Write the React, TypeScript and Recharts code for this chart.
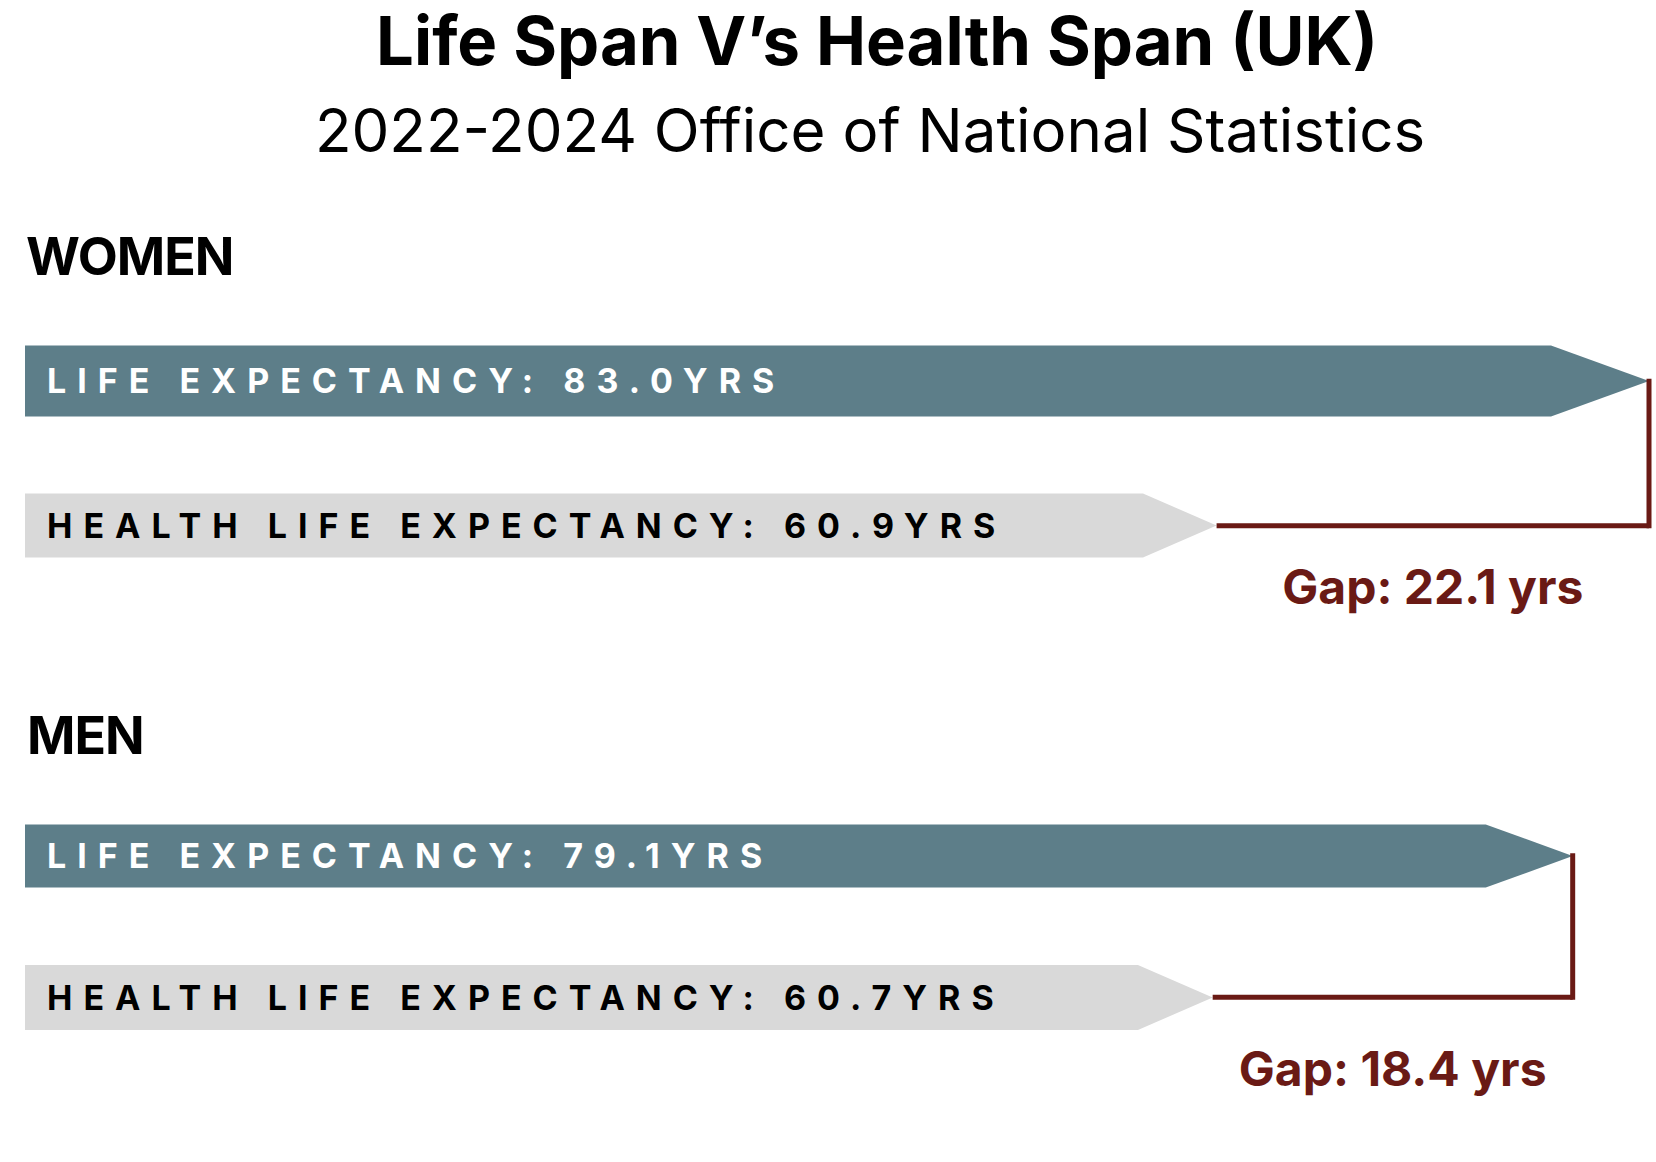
import { BarChart, Bar, XAxis, YAxis, ReferenceLine } from "recharts";

// ONS 2022-2024, years
const CATEGORIES = ["Life Expectancy", "Health Life Expectancy"];
const WOMEN_YEARS = [83.0, 60.9];
const MEN_YEARS = [79.1, 60.7];
const AXIS_MAX = 83;

const FONT = "Inter, 'Noto Sans', sans-serif";
const LIFE_COLOR = "#5D7E89";
const HEALTH_COLOR = "#D9D9D9";
const GAP_COLOR = "#6A1A15";

function makeRows(values: number[]) {
  return CATEGORIES.map((name, i) => ({ name, years: values[i] }));
}

// arrow-shaped bar with its label drawn inside
const arrowShape = (thickness: number[]) => (props: any) => {
  const { x, y, width, height, index, payload } = props;
  const t = thickness[index];
  const cy = y + height / 2;
  const isLife = index === 0;
  const head = isLife ? t * 1.38 : t * 1.15;
  const tip = x + width;
  const pts = [
    [x, cy - t / 2],
    [tip - head, cy - t / 2],
    [tip, cy],
    [tip - head, cy + t / 2],
    [x, cy + t / 2],
  ]
    .map((p) => p.join(","))
    .join(" ");
  const fs = 34;
  return (
    <g>
      <polygon points={pts} fill={isLife ? LIFE_COLOR : HEALTH_COLOR} />
      <text
        x={x + 22}
        y={cy + fs * 0.36}
        fill={isLife ? "#ffffff" : "#000000"}
        fontFamily={FONT}
        fontWeight={700}
        fontSize={fs}
        letterSpacing={11}
      >
        {`${payload.name.toUpperCase()}: ${payload.years.toFixed(1)}YRS`}
      </text>
    </g>
  );
};

function GapLabel(props: any) {
  const { viewBox, drop, text } = props;
  if (!viewBox) return null;
  return (
    <text
      x={viewBox.x + viewBox.width / 2}
      y={viewBox.y + drop}
      textAnchor="middle"
      fill={GAP_COLOR}
      fontFamily={FONT}
      fontWeight={700}
      fontSize={48}
      letterSpacing={0}
    >
      {text}
    </text>
  );
}

interface SectionProps {
  values: number[];
  top: number;
  height: number;
  marginTop: number;
  marginBottom: number;
  thickness: number[];
  labelDrop: number;
}

function Section({ values, top, height, marginTop, marginBottom, thickness, labelDrop }: SectionProps) {
  const data = makeRows(values);
  const [life, health] = values;
  const gap = `Gap: ${(life - health).toFixed(1)} yrs`;
  return (
    <div style={{ position: "absolute", left: 0, top, width: 1656, height }}>
      <BarChart
        width={1656}
        height={height}
        data={data}
        layout="vertical"
        margin={{ top: marginTop, bottom: marginBottom, left: 25, right: 7 }}
      >
        <XAxis type="number" domain={[0, AXIS_MAX]} hide />
        <YAxis type="category" dataKey="name" hide />
        <Bar
          dataKey="years"
          barSize={60}
          shape={arrowShape(thickness)}
          isAnimationActive={false}
        />
        <ReferenceLine
          segment={[
            { x: life, y: CATEGORIES[0] },
            { x: life, y: CATEGORIES[1] },
          ]}
          stroke={GAP_COLOR}
          strokeWidth={5}
          strokeLinecap="square"
          ifOverflow="visible"
        />
        <ReferenceLine
          segment={[
            { x: health, y: CATEGORIES[1] },
            { x: life, y: CATEGORIES[1] },
          ]}
          stroke={GAP_COLOR}
          strokeWidth={5}
          ifOverflow="visible"
          label={(p: any) => <GapLabel {...p} drop={labelDrop} text={gap} />}
        />
      </BarChart>
    </div>
  );
}

export default function App() {
  return (
    <div
      style={{
        position: "absolute",
        left: 0,
        top: 0,
        width: 1656,
        height: 1162,
        background: "#ffffff",
      }}
    >
      <svg width={1656} height={1162} style={{ position: "absolute", left: 0, top: 0 }}>
        <text x={877} y={65} textAnchor="middle" fontFamily={FONT} fontWeight={700} fontSize={67} letterSpacing={0}>
          Life Span V’s Health Span (UK)
        </text>
        <text x={870} y={152} textAnchor="middle" fontFamily={FONT} fontWeight={400} fontSize={60}>
          2022-2024 Office of National Statistics
        </text>
        <text x={26} y={275} fontFamily={FONT} fontWeight={700} fontSize={52} letterSpacing={-1}>
          WOMEN
        </text>
        <text x={27} y={754} fontFamily={FONT} fontWeight={700} fontSize={52} letterSpacing={-1}>
          MEN
        </text>
      </svg>
      <Section
        values={WOMEN_YEARS}
        top={300}
        height={330}
        marginTop={9}
        marginBottom={32}
        thickness={[71, 64]}
        labelDrop={78}
      />
      <Section
        values={MEN_YEARS}
        top={775}
        height={340}
        marginTop={10}
        marginBottom={47}
        thickness={[63, 65]}
        labelDrop={89}
      />
    </div>
  );
}
